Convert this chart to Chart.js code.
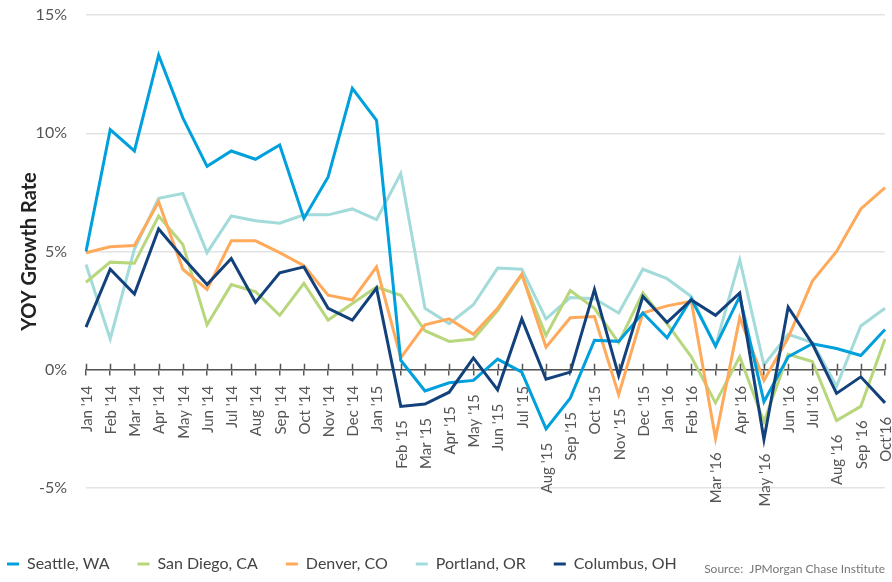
<!DOCTYPE html>
<html>
<head>
<meta charset="utf-8">
<script src="https://cdn.jsdelivr.net/npm/chart.js@4.4.1/dist/chart.umd.min.js"></script>
<style>
  html, body { margin: 0; padding: 0; background: #fff; }
  #wrap { width: 892px; height: 582px; }
</style>
</head>
<body>
<div id="wrap"><canvas id="growth-chart" width="892" height="582"></canvas></div>
<script>
const months = ["Jan '14", "Feb '14", "Mar '14", "Apr '14", "May '14", "Jun '14", "Jul '14", "Aug '14", "Sep '14", "Oct '14", "Nov '14", "Dec '14",
    "Jan '15", "Feb '15", "Mar '15", "Apr '15", "May '15", "Jun '15", "Jul '15", "Aug '15", "Sep '15", "Oct '15", "Nov '15", "Dec '15",
    "Jan '16", "Feb '16", "Mar '16", "Apr '16", "May '16", "Jun '16", "Jul '16", "Aug '16", "Sep '16", "Oct'16"];

const seattle = [5.0, 10.15, 9.25, 13.3, 10.65, 8.6, 9.25, 8.9, 9.5, 6.4, 8.15, 11.9,
    10.55, 0.4, -0.9, -0.55, -0.45, 0.45, -0.1, -2.5, -1.2, 1.25, 1.2, 2.4,
    1.35, 3.0, 1.0, 3.1, -1.35, 0.55, 1.1, 0.9, 0.6, 1.7];
const sanDiego = [3.7, 4.55, 4.5, 6.5, 5.3, 1.9, 3.6, 3.3, 2.3, 3.65, 2.1, 2.8,
    3.5, 3.15, 1.65, 1.2, 1.3, 2.5, 4.0, 1.45, 3.35, 2.6, 1.15, 3.25,
    1.95, 0.55, -1.4, 0.55, -2.2, 0.65, 0.35, -2.15, -1.55, 1.3];
const denver = [4.95, 5.2, 5.25, 7.1, 4.25, 3.4, 5.45, 5.45, 4.95, 4.4, 3.15, 2.95,
    4.35, 0.5, 1.9, 2.15, 1.5, 2.6, 4.05, 0.95, 2.2, 2.25, -1.05, 2.4,
    2.7, 2.9, -2.9, 2.2, -0.45, 1.35, 3.75, 5.0, 6.8, 7.7];
const portland = [4.45, 1.3, 5.1, 7.25, 7.45, 4.95, 6.5, 6.3, 6.2, 6.55, 6.55, 6.8,
    6.35, 8.3, 2.6, 1.95, 2.75, 4.3, 4.25, 2.15, 3.05, 3.0, 2.4, 4.25,
    3.85, 3.1, 1.0, 4.65, 0.2, 1.5, 1.15, -0.7, 1.85, 2.6];
const columbus = [1.8, 4.25, 3.2, 5.95, 4.75, 3.6, 4.7, 2.85, 4.1, 4.35, 2.6, 2.1,
    3.45, -1.55, -1.45, -0.95, 0.5, -0.85, 2.15, -0.4, -0.1, 3.4, -0.25, 3.1,
    2.0, 2.95, 2.3, 3.25, -2.95, 2.65, 1.1, -1.0, -0.3, -1.4];

const yTicks = [-5, 0, 5, 10, 15];

Chart.defaults.font.family = 'Lato';
Chart.defaults.color = '#555';

function makeLine(label, values, color, order) {
    return {
        label: label,
        data: values,
        borderColor: color,
        backgroundColor: color,
        borderWidth: 3,
        pointRadius: 0,
        tension: 0,
        fill: false,
        order: order
    };
}

// month labels hang under the lowest line at each month
const monthLabels = {
    id: 'monthLabels',
    afterDraw(chart) {
        const ctx = chart.ctx;
        const xs = chart.scales.x;
        const ys = chart.scales.y;
        const zero = ys.getPixelForValue(0);
        ctx.save();
        ctx.strokeStyle = '#555';
        ctx.lineWidth = 1.5;
        months.forEach((m, i) => {
            const px = Math.round(xs.getPixelForValue(i)) + 0.5;
            ctx.beginPath();
            ctx.moveTo(px, zero);
            ctx.lineTo(px, zero - 6);
            ctx.stroke();
        });
        ctx.font = '15px Lato';
        ctx.fillStyle = '#555';
        ctx.textAlign = 'right';
        ctx.textBaseline = 'middle';
        months.forEach((m, i) => {
            const low = Math.min(...chart.data.datasets.map(d => d.data[i]));
            const top = Math.max(zero + 16, ys.getPixelForValue(low) + 14);
            ctx.save();
            ctx.translate(xs.getPixelForValue(i) + 1, top);
            ctx.rotate(-Math.PI / 2);
            ctx.fillText(m, 0, 0);
            ctx.restore();
        });
        ctx.font = '12px Lato';
        ctx.fillStyle = '#777';
        ctx.fillText('Source:  JPMorgan Chase Institute', chart.chartArea.right, 569);
        ctx.restore();
    }
};

const ctx = document.getElementById('growth-chart').getContext('2d');
new Chart(ctx, {
    type: 'line',
    data: {
        labels: months,
        datasets: [
            makeLine('Seattle, WA', seattle, '#00a0dc', 1),
            makeLine('San Diego, CA', sanDiego, '#b8d77c', 3),
            makeLine('Denver, CO', denver, '#ffa95b', 2),
            makeLine('Portland, OR', portland, '#a3dada', 4),
            makeLine('Columbus, OH', columbus, '#13417b', 0)
        ]
    },
    options: {
        responsive: false,
        animation: false,
        devicePixelRatio: 1,
        layout: { padding: { left: -21, right: 7, top: 15, bottom: 0 } },
        plugins: {
            tooltip: { enabled: false },
            legend: {
                position: 'bottom',
                align: 'start',
                labels: {
                    boxWidth: 12,
                    boxHeight: 3,
                    padding: 28,
                    color: '#444',
                    font: { size: 16 },
                    sort: (a, b) => a.datasetIndex - b.datasetIndex,
                    generateLabels: (chart) => Chart.defaults.plugins.legend.labels.generateLabels(chart)
                        .map(l => Object.assign(l, { fillStyle: l.strokeStyle, lineWidth: 0 }))
                }
            }
        },
        scales: {
            x: {
                type: 'category',
                position: { y: 0 },
                offset: false,
                ticks: { display: false },
                grid: { drawOnChartArea: false, drawTicks: true, tickLength: 5, color: '#555', lineWidth: 1.5 },
                border: { display: true, color: '#555', width: 1.5 },
                afterFit: (scale) => { scale.height = 0; }
            },
            // empty bottom axis that keeps room for the hanging month labels
            xRoom: {
                type: 'category',
                position: 'bottom',
                ticks: { display: false },
                grid: { display: false },
                border: { display: false },
                afterFit: (scale) => { scale.height = 40; }
            },
            y: {
                min: -5,
                max: 15,
                afterBuildTicks: (scale) => { scale.ticks = yTicks.map(v => ({ value: v })); },
                ticks: {
                    padding: 19,
                    color: '#555',
                    font: { size: 16 },
                    callback: (v) => v + '%'
                },
                grid: { color: '#e3e3e3', lineWidth: 1.5, drawTicks: false },
                border: { display: false },
                title: {
                    display: true,
                    text: 'YOY Growth Rate',
                    color: '#222',
                    font: { size: 20, weight: 'bold' },
                    padding: { top: 39, bottom: 0 }
                },
                afterFit: (scale) => {
                    scale.width = 107;
                    scale.paddingTop = 0;
                    scale.paddingBottom = 0;
                }
            }
        }
    },
    plugins: [monthLabels]
});
</script>
</body>
</html>
